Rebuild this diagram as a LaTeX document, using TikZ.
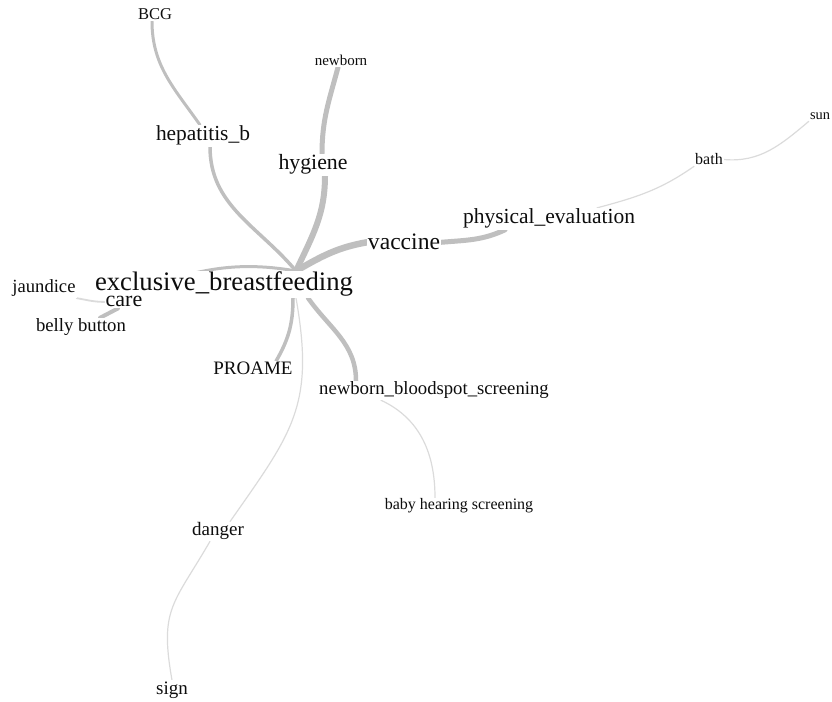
\documentclass[tikz,border=0pt]{standalone}
\usepackage{fontspec}
\setmainfont{Liberation Serif}
\usetikzlibrary{backgrounds,positioning}
\newcommand{\fsz}[1]{\fontsize{#1}{#1}\selectfont}

\begin{document}
\begin{tikzpicture}[
    x = 1pt,
    y = 1pt
  ]
  \tikzstyle{word} = [
    fill       = white,
    text       = black!95,
    inner sep  = 1pt,
    anchor     = base
  ]
  \tikzstyle{strong} = [draw = black!25, line cap = round]
  \tikzstyle{weak}   = [draw = black!14, line width = 1.2pt, line cap = round]

  \useasboundingbox (0,0) rectangle (832,701);

  \node [word, font=\fsz{16.5}] at (155,681) (bcg)     {BCG};
  \node [word, font=\fsz{15}]   at (341,635) (newborn) {newborn};
  \node [word, font=\fsz{21.4}] at (203,560) (hepb)    {hepatitis\_b};
  \node [word, font=\fsz{21.8}] at (313,531) (hyg)     {hygiene};
  \node [word, font=\fsz{14.4}] at (820,581) (sun)     {sun};
  \node [word, font=\fsz{16}]   at (709,536) (bath)    {bath};
  \node [word, font=\fsz{21.5}] at (549,477) (phys)    {physical\_evaluation};
  \node [word, font=\fsz{23.6}] at (404,451) (vac)     {vaccine};
  \node [word, font=\fsz{26.7}] at (224,410) (ebf)     {exclusive\_breastfeeding};
  \node [word, font=\fsz{22}]   at (124,394) (care)    {care};
  \node [word, font=\fsz{18.6}] at (44,408)  (jaund)   {jaundice};
  \node [word, font=\fsz{18.7}] at (81,369)  (belly)   {belly button};
  \node [word, font=\fsz{19}]   at (253,326) (proame)  {PROAME};
  \node [word, font=\fsz{18.7}] at (434,306) (nbs)     {newborn\_bloodspot\_screening};
  \node [word, font=\fsz{16}]   at (459,191) (bhs)     {baby hearing screening};
  \node [word, font=\fsz{19}]   at (218,165) (danger)  {danger};
  \node [word, font=\fsz{19}]   at (172,7)   (sign)    {sign};

  \begin{scope}[on background layer]
    % upper branches
    \path [strong, line width=3pt]   ([xshift=-3pt]bcg.south) to[out=-90, in=125] ([xshift=-3pt]hepb.north);
    \path [strong, line width=3.5pt] ([xshift=7pt]hepb.south) to[out=-90, in=130] ([xshift=72pt]ebf.north);
    \path [strong, line width=5pt]   ([xshift=-3pt]newborn.south) to[out=-105, in=90] ([xshift=9pt]hyg.north);
    \path [strong, line width=6pt]   ([xshift=12pt]hyg.south) to[out=-90, in=65] ([xshift=72pt]ebf.north);
    \path [strong, line width=6.5pt] (vac.west) to[out=190, in=30] ([xshift=72pt]ebf.north);
    \path [strong, line width=5pt]   (vac.east) to[out=5, in=-155] ([xshift=-44pt]phys.south);
    \path [weak] ([xshift=48pt]phys.north) to[out=15, in=-145] (bath.south west);
    \path [weak] (bath.east) to[out=-5, in=-140] (sun.south west);
    % left branches
    \path [strong, line width=3pt]   ([xshift=72pt]ebf.north) to[out=170, in=20] (care.north);
    \path [weak, line width=1.8pt]   (jaund.south east) to[out=-10, in=180] (care.west);
    \path [strong, line width=4pt]   ([xshift=19pt]belly.north) -- ([xshift=-6pt]care.south);
    % lower branches
    \path [strong, line width=3.5pt] ([xshift=69pt]ebf.south) to[out=-90, in=60] ([xshift=23pt]proame.north);
    \path [strong, line width=4.5pt] ([xshift=84pt]ebf.south) to[out=-55, in=90] ([xshift=-78pt]nbs.north);
    \path [weak] ([xshift=72pt]ebf.south) to[out=-80, in=55, looseness=1.2] ([xshift=12pt]danger.north);
    \path [weak] ([xshift=-8pt]danger.south) to[out=-120, in=100, looseness=1.3] (sign.north);
    \path [weak] ([xshift=-53pt]nbs.south) to[out=-25, in=90] ([xshift=-24pt]bhs.north);
  \end{scope}
\end{tikzpicture}
\end{document}
